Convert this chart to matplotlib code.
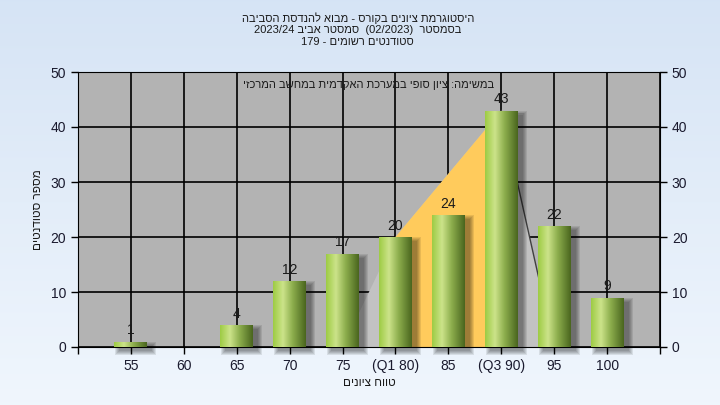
import re
import numpy as np
import matplotlib
matplotlib.use("Agg")
import matplotlib.pyplot as plt
from matplotlib.patches import Rectangle, Polygon

plt.rcParams['font.family'] = ['Liberation Sans', 'DejaVu Sans']

# data
categories = ['55', '60', '65', '70', '75', '(Q1 80)', '85', '(Q3 90)', '95', '100']
counts = [1, 0, 4, 12, 17, 20, 24, 43, 22, 9]

# quartile shape drawn behind the bars
shape_cats = ['75', '(Q1 80)', '(Q3 90)', '95']
shape_vals = [0, 20, 43, 0]

title_lines = ['היסטוגרמת ציונים בקורס - מבוא להנדסת הסביבה',
               'בסמסטר  (02/2023)  סמסטר אביב 2023/24',
               'סטודנטים רשומים - 179']
subtitle = 'במשימה: ציון סופי במערכת האקדמית במחשב המרכזי'
xlabel = 'טווח ציונים'
ylabel = 'מספר סטודנטים'

LTR = r'[0-9A-Za-z][0-9A-Za-z/.]*'
MIRROR = str.maketrans('()', ')(')


def rtl(s):
    # simple logical -> visual reordering for Hebrew text
    parts = re.split('(' + LTR + ')', s)
    out = []
    for p in reversed(parts):
        if p and re.fullmatch(LTR, p):
            out.append(p)
        else:
            out.append(p[::-1].translate(MIRROR))
    return ''.join(out)


fig = plt.figure(figsize=(7.2, 4.05), dpi=100)

# light blue background gradient
bg = fig.add_axes([0, 0, 1, 1], zorder=-10)
grad = np.linspace(0, 1, 256)[:, None]
top = np.array([0.839, 0.894, 0.961])
bot = np.array([0.941, 0.965, 0.992])
bg.imshow(top + (bot - top) * grad[:, :, None], aspect='auto', extent=[0, 1, 0, 1])
bg.axis('off')

ax = fig.add_axes([78 / 720, 1 - 347 / 405, 582 / 720, 275 / 405])
ax.set_facecolor('#b3b3b3')
ax.set_xlim(0, 11)
ax.set_ylim(0, 50)

pos = {c: i + 1 for i, c in enumerate(categories)}
px_x = 11 / 582
px_y = 50 / 275

# quartile area (light grey) and yellow IQR band
sx = [pos[c] for c in shape_cats]
ax.add_patch(Polygon(list(zip(sx, shape_vals)), closed=True, facecolor='#c2c2c2',
                     edgecolor='none', zorder=1))
ax.add_patch(Polygon([(sx[1], 0), (sx[1], shape_vals[1]), (sx[2], shape_vals[2]), (sx[2], 0)],
                     closed=True, facecolor='#ffcb5c', edgecolor='none', zorder=1.5))
ax.plot(sx[2:], shape_vals[2:], color='#404040', lw=1, zorder=1.6)

ax.set_axisbelow(True)
ax.grid(True, color='black', lw=1.2, zorder=0.5)

# bars with shadow and cylinder-like gradient
w = 33 * px_x
stops = np.array([[0.62, 0.80, 0.27], [0.80, 0.89, 0.54], [0.55, 0.68, 0.30], [0.29, 0.40, 0.12]])
t = np.linspace(0, 1, 64)
sp = [0, 0.3, 0.6, 1]
row = np.stack([np.interp(t, sp, stops[:, k]) for k in range(3)], axis=-1)[None, :, :]

for c, v in zip(categories, counts):
    if v == 0:
        continue
    x = pos[c]
    for e in range(5):
        ax.add_patch(Rectangle((x - w / 2 + 5 * px_x - e * px_x, -4 * px_y - e * px_y),
                               w + 2 * e * px_x, v + 2 * e * px_y,
                               facecolor='black', alpha=0.09, lw=0, zorder=2, clip_on=False))
    rect = Rectangle((x - w / 2, 0), w, v, facecolor='none', lw=0, zorder=3)
    ax.add_patch(rect)
    im = ax.imshow(row, extent=[x - w / 2, x + w / 2, 0, v], aspect='auto', zorder=3)
    im.set_clip_path(rect)
    ax.annotate(str(v), (x, v), xytext=(0, 3), textcoords='offset points',
                ha='center', va='bottom', fontsize=10, color='#1a1a1a', zorder=5)

ax.set_xlim(0, 11)
ax.set_ylim(0, 50)

ax.set_xticks(range(0, 12))
ax.set_xticklabels([''] + categories + [''])
ax.set_yticks(range(0, 51, 10))
ax.tick_params(axis='both', labelsize=10, labelcolor='#1a1a2e', length=5, width=1)
ax.tick_params(axis='y', right=True, labelright=True)
for s in ax.spines.values():
    s.set_color('black')

ax.text(0.5, 0.953, rtl(subtitle), transform=ax.transAxes, ha='center', va='center',
        fontsize=8, color='#1a1a1a')
ax.set_xlabel(rtl(xlabel), fontsize=8.5, color='#1a1a1a', labelpad=3)
ax.set_ylabel(rtl(ylabel), fontsize=8.5, color='#1a1a1a', labelpad=5)

for i, line in enumerate(title_lines):
    fig.text(0.497, 1 - (18 + 12 * i) / 405, rtl(line), ha='center', va='center',
             fontsize=8, color='#1a1a1a')

fig.savefig('out.png', dpi=100)
